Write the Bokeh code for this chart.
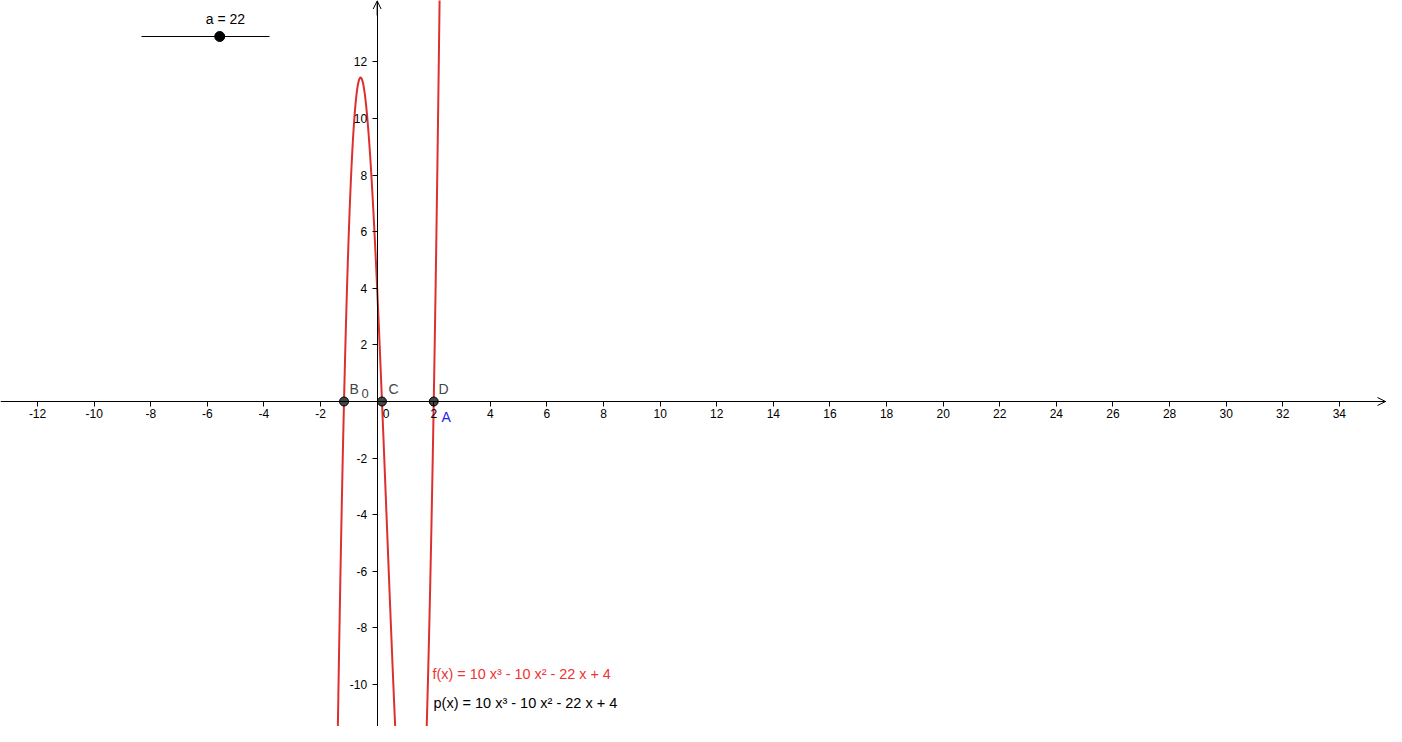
import numpy as np
from bokeh.plotting import figure
from bokeh.models import LinearAxis, FixedTicker, Arrow, OpenHead, Range1d, CustomJSTickFormatter
from bokeh.embed import file_html
from bokeh.resources import INLINE
from bokeh.core.properties import value

# ---- data ----
coeffs = [10, -10, -22, 4]            # f(x) = 10 x^3 - 10 x^2 - 22 x + 4
slider_a = 22
slider_min, slider_max = 0, 36
point_names = ["B", "C", "D"]
point_x = [-1.17, 0.17, 2.0]
point_y = [0.0, 0.0, 0.0]
x_ticks = [-12, -10, -8, -6, -4, -2, 2, 4, 6, 8, 10, 12, 14, 16, 18, 20, 22, 24, 26, 28, 30, 32, 34]
y_ticks = [-10, -8, -6, -4, -2, 2, 4, 6, 8, 10, 12]
f_label = "f(x) = 10 x³ - 10 x² - 22 x + 4"
p_label = "p(x) = 10 x³ - 10 x² - 22 x + 4"

# ---- screen geometry helpers (reference pixels -> data) ----
S = 28.3
OX, OY = 376.65, 401.0
def dx(px):
    return (px - OX) / S
def dy(py):
    return (OY - py) / S

W, H = 1386, 726
p = figure(width=W, height=H, output_backend="svg", toolbar_location=None,
           x_range=Range1d(dx(0), dx(W)), y_range=Range1d(dy(H), dy(0)),
           x_axis_type=None, y_axis_type=None, min_border=0,
           background_fill_color="white", border_fill_color="white")
p.outline_line_color = None
p.grid.visible = False

FONT = value("Liberation Sans")

fmt = "return tick.toString();"
xa = LinearAxis(fixed_location=0, ticker=FixedTicker(ticks=x_ticks),
                formatter=CustomJSTickFormatter(code=fmt))
ya = LinearAxis(fixed_location=0, ticker=FixedTicker(ticks=y_ticks),
                formatter=CustomJSTickFormatter(code=fmt))
for ax in (xa, ya):
    ax.axis_line_color = "black"
    ax.axis_line_width = 1
    ax.major_tick_in = 0
    ax.major_tick_out = 5
    ax.minor_tick_out = 0
    ax.minor_tick_in = 0
    ax.major_tick_line_color = "black"
    ax.major_label_text_font = "Liberation Sans"
    ax.major_label_text_font_size = "12px"
    ax.major_label_text_color = "black"
xa.major_label_standoff = 2
ya.major_label_standoff = 5
p.add_layout(xa, "below")
p.add_layout(ya, "left")

# axis arrows
p.add_layout(Arrow(end=OpenHead(size=8, line_width=1, line_color="black"),
                   x_start=dx(1370), y_start=0, x_end=dx(1385), y_end=0,
                   line_color="black", line_width=1))
p.add_layout(Arrow(end=OpenHead(size=8, line_width=1, line_color="black"),
                   x_start=0, y_start=dy(15), x_end=0, y_end=dy(0.5),
                   line_color="black", line_width=1))

# curve
xs = np.linspace(-1.6, 2.6, 1200)
ys = np.polyval(coeffs, xs)
ys = np.where((ys > 20) | (ys < -20), np.nan, ys)
p.line(xs, ys, line_color="#de2f2f", line_width=2)

# points
p.scatter(point_x, point_y, size=9, fill_color="#444444", line_color="black", line_width=1)

# labels
lbl_x = [dx(349), dx(388), dx(438)]
lbl_y = [dy(388), dy(388), dy(388)]
p.text(lbl_x, lbl_y, text=point_names, text_font=FONT, text_font_size="14px",
       text_color="#444444", text_baseline="middle", text_align="left")
p.text([dx(361)], [dy(393)], text=["0"], text_font=FONT, text_font_size="13px",
       text_color="#444444", text_baseline="middle", text_align="left")
p.text([dx(385.5)], [dy(413)], text=["0"], text_font=FONT, text_font_size="12px",
       text_color="black", text_baseline="middle", text_align="center")
p.text([dx(441)], [dy(416)], text=["A"], text_font=FONT, text_font_size="14px",
       text_color="#2222ee", text_baseline="middle", text_align="left")

p.text([dx(432)], [dy(673)], text=[f_label], text_font=FONT, text_font_size="14.4px",
       text_color="#ee3333", text_baseline="middle", text_align="left")
p.text([dx(433)], [dy(702)], text=[p_label], text_font=FONT, text_font_size="14.5px",
       text_color="black", text_baseline="middle", text_align="left")

# slider
sx0, sx1, sy = dx(141), dx(269), dy(36)
p.line([sx0, sx1], [sy, sy], line_color="black", line_width=1)
frac = (slider_a - slider_min) / (slider_max - slider_min)
p.scatter([sx0 + frac * (sx1 - sx0)], [sy], size=10, fill_color="black", line_color="black")
p.text([dx(225)], [dy(18)], text=[f"a = {slider_a}"], text_font=FONT, text_font_size="14px",
       text_color="black", text_baseline="middle", text_align="center")

open("out.html", "w").write(file_html(p, INLINE))
